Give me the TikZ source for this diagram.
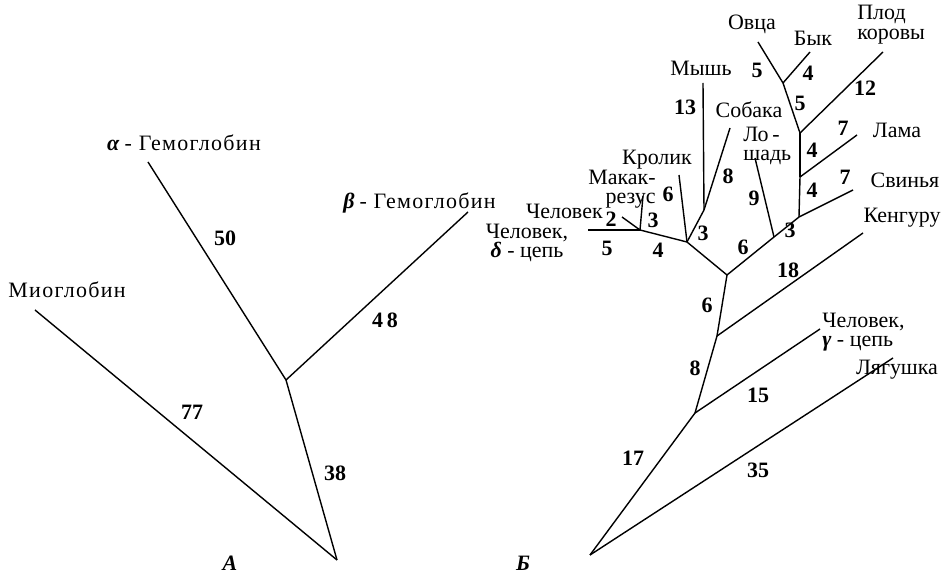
\documentclass[tikz,border=0pt]{standalone}
\usepackage{fontspec}
\setmainfont{Liberation Serif}
\newfontfamily\widefont{Liberation Serif}[LetterSpace=6]
\usetikzlibrary{positioning}

\begin{document}
\begin{tikzpicture}[x=0.02cm, y=-0.02cm,
    taxon/.style={inner sep=0pt, align=center, font=\fontsize{12.5}{11}\selectfont},
    taxonA/.style={inner sep=0pt, font=\widefont\fontsize{12.5}{12}\selectfont},
    len/.style={inner sep=0pt, font=\fontsize{12.5}{12}\selectfont\bfseries},
    panel/.style={inner sep=0pt, font=\fontsize{12.5}{12}\selectfont\bfseries\itshape},
    branch/.style={line width=0.8pt}
]
\useasboundingbox (0,0) rectangle (951,574);

\coordinate (rootA) at (337,560);
\coordinate (hbA) at (286,380);
\coordinate (alphaA) at (148,162);
\coordinate (betaA) at (468,212);
\coordinate (myoA) at (35,310);

\node[taxonA] (alphalbl) at (184,143) {\textbf{\textit{α}}\,- Гемоглобин};
\node[taxonA, anchor=west] (betalbl) at (343,203) {\textbf{\textit{β}}\,- Гемоглобин};
\node[taxonA, anchor=west] (myolbl) at (8,290) {Миоглобин};
\node[len] (l50) at (225,238) {50};
\node[len] (l48) at (385,320) {4\,8};
\node[len] (l77) at (192,412) {77};
\node[len] (l38) at (335,473) {38};
\node[panel] (pA) at (230,563) {A};

\draw[branch] (rootA) -- (hbA);
\draw[branch] (rootA) -- (myoA);
\draw[branch] (hbA) -- (alphaA);
\draw[branch] (hbA) -- (betaA);

\coordinate (rootB) at (590,555);
\coordinate (gammaJ) at (695,413);
\coordinate (kangJ) at (717,336);
\coordinate (topJ) at (727,275);
\coordinate (horseJ) at (774,237);
\coordinate (pigJ) at (799,217);
\coordinate (llamaJ) at (800,177);
\coordinate (fetusJ) at (800,133);
\coordinate (sheepJ) at (783,83);
\coordinate (rabbitJ) at (687,242);
\coordinate (mouseJ) at (704,210);
\coordinate (macJ) at (640,230);

\coordinate (sheep) at (758,42);
\coordinate (bull) at (810,52);
\coordinate (fetus) at (883,52);
\coordinate (llama) at (857,135);
\coordinate (pig) at (853,190);
\coordinate (horse) at (755,158);
\coordinate (kangaroo) at (863,233);
\coordinate (humgamma) at (820,329);
\coordinate (frog) at (893,358);
\coordinate (mouse) at (703,83);
\coordinate (dog) at (730,128);
\coordinate (rabbit) at (679,175);
\coordinate (macaque) at (643,196);
\coordinate (human) at (622,217);
\coordinate (humdelta) at (588,230);

\node[taxon] (sheeplbl) at (752,24) {Овца};
\node[taxon] (bulllbl) at (813,38) {Бык};
\node[taxon, anchor=north west, align=left] (fetuslbl) at (857,5) {Плод\\коровы};
\node[taxon] (llamalbl) at (897,130) {Лама};
\node[taxon] (piglbl) at (905,180) {Свинья};
\node[taxon] (kanglbl) at (902,218) {Кенгуру};
\node[taxon, anchor=west, align=left] (gammalbl) at (822,332) {Человек,\\\textbf{\textit{γ}} - цепь};
\node[taxon] (froglbl) at (897,370) {Лягушка};
\node[taxon] (mouselbl) at (701,68) {Мышь};
\node[taxon] (doglbl) at (749,110) {Собака};
\node[taxon, anchor=west, align=left] (horselbl) at (743,146) {Ло\,-\\шадь};
\node[taxon] (rabbitlbl) at (657,160) {Кролик};
\node[taxon, anchor=east, align=right] (maclbl) at (656,189) {Макак-\\резус};
\node[taxon, anchor=east] (humanlbl) at (603,211) {Человек};
\node[taxon] (deltalbl) at (527,243) {Человек,\\\textbf{\textit{δ}} - цепь};

\node[len] (b5a) at (757,70) {5};
\node[len] (b4a) at (808,73) {4};
\node[len] (b5b) at (800,103) {5};
\node[len] (b12) at (865,88) {12};
\node[len] (b7a) at (843,128) {7};
\node[len] (b4b) at (812,150) {4};
\node[len] (b7b) at (845,177) {7};
\node[len] (b4c) at (812,190) {4};
\node[len] (b3a) at (790,230) {3};
\node[len] (b9) at (754,198) {9};
\node[len] (b6a) at (743,247) {6};
\node[len] (b18) at (788,270) {18};
\node[len] (b6b) at (707,305) {6};
\node[len] (b8a) at (695,368) {8};
\node[len] (b15) at (758,395) {15};
\node[len] (b17) at (633,458) {17};
\node[len] (b35) at (758,470) {35};
\node[len] (b13) at (685,107) {13};
\node[len] (b8b) at (728,176) {8};
\node[len] (b6c) at (668,194) {6};
\node[len] (b3b) at (703,233) {3};
\node[len] (b4d) at (658,250) {4};
\node[len] (b3c) at (653,220) {3};
\node[len] (b2) at (611,219) {2};
\node[len] (b5c) at (607,248) {5};
\node[panel] (pB) at (523,563) {Б};

\draw[branch] (rootB) -- (gammaJ);
\draw[branch] (rootB) -- (frog);
\draw[branch] (gammaJ) -- (humgamma);
\draw[branch] (gammaJ) -- (kangJ);
\draw[branch] (kangJ) -- (kangaroo);
\draw[branch] (kangJ) -- (topJ);
\draw[branch] (topJ) -- (rabbitJ);
\draw[branch] (topJ) -- (horseJ);
\draw[branch] (horseJ) -- (horse);
\draw[branch] (horseJ) -- (pigJ);
\draw[branch] (pigJ) -- (pig);
\draw[branch] (pigJ) -- (llamaJ);
\draw[branch] (llamaJ) -- (llama);
\draw[branch] (llamaJ) -- (fetusJ);
\draw[branch] (fetusJ) -- (fetus);
\draw[branch] (fetusJ) -- (sheepJ);
\draw[branch] (sheepJ) -- (sheep);
\draw[branch] (sheepJ) -- (bull);
\draw[branch] (rabbitJ) -- (rabbit);
\draw[branch] (rabbitJ) -- (mouseJ);
\draw[branch] (mouseJ) -- (mouse);
\draw[branch] (mouseJ) -- (dog);
\draw[branch] (rabbitJ) -- (macJ);
\draw[branch] (macJ) -- (macaque);
\draw[branch] (macJ) -- (human);
\draw[branch] (macJ) -- (humdelta);
\end{tikzpicture}
\end{document}
